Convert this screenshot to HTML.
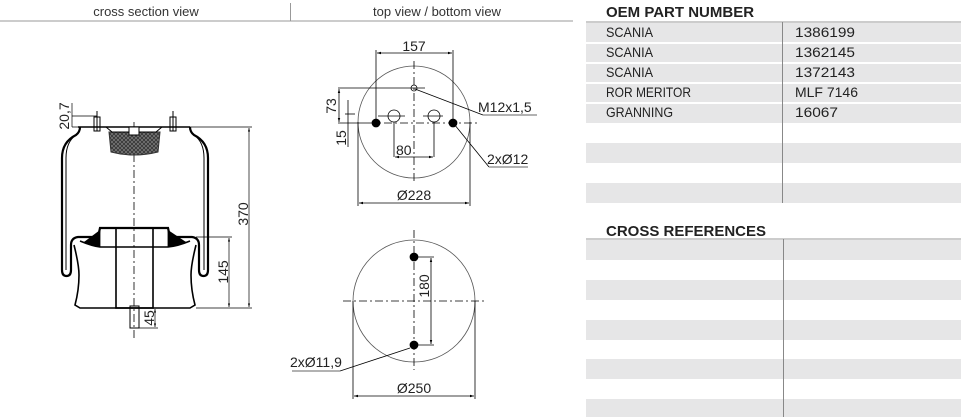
<!DOCTYPE html>
<html><head><meta charset="utf-8"><style>
html,body{margin:0;padding:0;background:#fff;width:961px;height:417px;overflow:hidden}
svg{display:block}
text{font-family:"Liberation Sans",Arial,sans-serif}
</style></head><body>
<svg width="961" height="417" viewBox="0 0 961 417" xmlns="http://www.w3.org/2000/svg">
<defs>
<pattern id="hatch" width="4" height="4" patternUnits="userSpaceOnUse">
<rect width="4" height="4" fill="#777"/><path d="M0 0L4 4M4 0L0 4" stroke="#333" stroke-width="0.8"/>
</pattern>
<marker id="ar" viewBox="0 0 10 10" refX="10" refY="5" markerWidth="7" markerHeight="5" orient="auto-start-reverse"><path d="M0 2L10 5L0 8z" fill="#000"/></marker>
</defs>

<!-- headers -->
<line x1="0" y1="21" x2="573" y2="21" stroke="#999" stroke-width="1"/>
<line x1="290.5" y1="3" x2="290.5" y2="21" stroke="#999"/>
<text x="146" y="16" font-size="13" text-anchor="middle" fill="#333">cross section view</text>
<text x="437" y="16" font-size="13" text-anchor="middle" fill="#333">top view / bottom view</text>

<!-- tables -->
<text x="606" y="17" font-size="15" font-weight="bold" fill="#222">OEM PART NUMBER</text>
<line x1="586" y1="22" x2="961" y2="22" stroke="#999"/>
<g fill="#e6e6e7">
<rect x="586" y="23" width="375" height="19"/>
<rect x="586" y="44" width="375" height="18"/>
<rect x="586" y="64" width="375" height="18"/>
<rect x="586" y="84" width="375" height="18"/>
<rect x="586" y="104" width="375" height="19"/>
<rect x="586" y="143" width="375" height="20"/>
<rect x="586" y="183" width="375" height="20"/>
</g>
<line x1="782.5" y1="22" x2="782.5" y2="203" stroke="#888"/>
<g font-size="14" fill="#222">
<text x="606" y="37" textLength="47" lengthAdjust="spacingAndGlyphs">SCANIA</text>
<text x="606" y="57" textLength="47" lengthAdjust="spacingAndGlyphs">SCANIA</text>
<text x="606" y="77" textLength="47" lengthAdjust="spacingAndGlyphs">SCANIA</text>
<text x="606" y="97" textLength="85" lengthAdjust="spacingAndGlyphs">ROR MERITOR</text>
<text x="606" y="117" textLength="67" lengthAdjust="spacingAndGlyphs">GRANNING</text>
<text x="795" y="37" textLength="60" lengthAdjust="spacingAndGlyphs">1386199</text>
<text x="795" y="57" textLength="60" lengthAdjust="spacingAndGlyphs">1362145</text>
<text x="795" y="77" textLength="60" lengthAdjust="spacingAndGlyphs">1372143</text>
<text x="795" y="97" textLength="63" lengthAdjust="spacingAndGlyphs">MLF 7146</text>
<text x="795" y="117" textLength="43" lengthAdjust="spacingAndGlyphs">16067</text>
</g>
<text x="606" y="236" font-size="15" font-weight="bold" fill="#222">CROSS REFERENCES</text>
<line x1="586" y1="239" x2="961" y2="239" stroke="#999"/>
<g fill="#e6e6e7">
<rect x="586" y="240" width="375" height="20"/>
<rect x="586" y="280" width="375" height="20"/>
<rect x="586" y="320" width="375" height="20"/>
<rect x="586" y="359" width="375" height="20"/>
<rect x="586" y="399" width="375" height="18"/>
</g>
<line x1="783.5" y1="239" x2="783.5" y2="417" stroke="#888"/>

<!-- cross section -->
<g stroke="#000" fill="none" stroke-width="1">
<line x1="134" y1="122" x2="134" y2="340" stroke-dasharray="8,3,2,3" stroke-width="0.8"/>
<!-- top plate -->
<line x1="78" y1="127" x2="190" y2="127" stroke-width="1.5"/>
<path d="M109 132 L160 132 L158 152 Q134 158 111 152 Z" fill="url(#hatch)" stroke="#333"/>
<path d="M106 127 L112 132 L156 132 L162 127" />
<rect x="94" y="117" width="6" height="14"/><rect x="170" y="117" width="6" height="14"/>
<line x1="97" y1="111" x2="97" y2="131"/><line x1="173" y1="111" x2="173" y2="131"/>
<rect x="129" y="127" width="10" height="8" fill="#fff"/>
<!-- body -->
<path d="M80 127 Q80 132 76 135 Q62 142 62 158 L62 270 Q62 276 66.5 276 Q71 276 71 270 L71 245 Q71 238 78 237 L98 237 L100 228 L168 228 L170 237 L192 237 Q199 238 199 245 L199 270 Q199 276 203.5 276 Q208 276 208 270 L208 158 Q208 142 194 135 Q190 132 190 127" stroke-width="2.2"/>
<path d="M76 135 Q66 142 66 158 L66 270 M204 270 L204 158 Q204 142 194 135" stroke-width="1"/>
<!-- piston -->
<path d="M74 245 Q79 265 79 275 Q79 290 75 305 L80 308 L190 308 L195 305 Q191 290 191 275 Q191 265 196 245" stroke-width="1.6"/>
<path d="M80 241 Q92 246 100 247 L168 247 Q178 246 190 241" stroke-width="1.6"/>
<path d="M84 242 L100 247 L100 230 M186 242 L168 247 L168 230" fill="#000" stroke-width="0.8"/>
<rect x="116" y="228" width="37" height="80" stroke-width="1.6"/>
<rect x="130" y="306" width="9" height="22"/>
<!-- dims -->
<g stroke-width="0.7">
<line x1="190" y1="127" x2="252" y2="127"/><line x1="196" y1="308" x2="252" y2="308"/>
<line x1="249" y1="128" x2="249" y2="307" marker-start="url(#ar)" marker-end="url(#ar)"/>
<line x1="196" y1="237" x2="232" y2="237"/>
<line x1="229" y1="238" x2="229" y2="307" marker-start="url(#ar)" marker-end="url(#ar)"/>
<line x1="139" y1="328" x2="158" y2="328"/>
<line x1="155" y1="309" x2="155" y2="327" marker-start="url(#ar)" marker-end="url(#ar)"/>
<line x1="72" y1="103" x2="72" y2="127"/><line x1="72" y1="116" x2="97" y2="116"/><line x1="72" y1="127" x2="96" y2="127"/>
</g>
</g>
<g font-size="14" fill="#222">
<text transform="translate(248,214) rotate(-90)" text-anchor="middle">370</text>
<text transform="translate(228,272) rotate(-90)" text-anchor="middle">145</text>
<text transform="translate(154,318) rotate(-90)" text-anchor="middle">45</text>
<text transform="translate(69,116) rotate(-90)" text-anchor="middle">20,7</text>
</g>

<!-- top view -->
<g stroke="#000" fill="none" stroke-width="0.8">
<circle cx="414" cy="122" r="56" stroke="#555"/>
<line x1="414" y1="61" x2="414" y2="183" stroke-dasharray="8,3,2,3"/>
<line x1="368" y1="123" x2="480" y2="123" stroke-dasharray="8,3,2,3"/>
<circle cx="376" cy="123" r="4" fill="#000"/><circle cx="453" cy="123" r="4" fill="#000"/>
<circle cx="394" cy="116" r="6"/><circle cx="434" cy="116" r="6"/>
<line x1="378" y1="116" x2="405" y2="116"/><line x1="423" y1="116" x2="443" y2="116"/>
<circle cx="414" cy="88" r="3"/>
<line x1="376" y1="50" x2="376" y2="123"/><line x1="453" y1="50" x2="453" y2="123"/>
<line x1="377" y1="53" x2="452" y2="53" marker-start="url(#ar)" marker-end="url(#ar)"/>
<line x1="338" y1="88" x2="425" y2="88"/>
<line x1="338" y1="123" x2="368" y2="123"/>
<line x1="339" y1="89" x2="339" y2="122" marker-start="url(#ar)" marker-end="url(#ar)"/>
<line x1="348" y1="100" x2="348" y2="147"/><line x1="345" y1="114" x2="355" y2="114"/>
<line x1="394" y1="122" x2="394" y2="157"/><line x1="434" y1="122" x2="434" y2="157"/>
<line x1="395" y1="157" x2="433" y2="157" marker-start="url(#ar)" marker-end="url(#ar)"/>
<line x1="358" y1="122" x2="358" y2="206"/><line x1="470" y1="122" x2="470" y2="206"/>
<line x1="359" y1="203" x2="469" y2="203" marker-start="url(#ar)" marker-end="url(#ar)"/>
<line x1="415" y1="89" x2="483" y2="115"/><line x1="483" y1="115" x2="537" y2="115" stroke="#999" stroke-width="1.4"/>
<line x1="454" y1="124" x2="489" y2="167"/><line x1="489" y1="167" x2="528" y2="167" stroke="#999" stroke-width="1.4"/>
</g>
<g font-size="14" fill="#222">
<text x="414" y="51" text-anchor="middle">157</text>
<text transform="translate(336,106) rotate(-90)" text-anchor="middle">73</text>
<text transform="translate(346,138) rotate(-90)" text-anchor="middle">15</text>
<text x="396" y="155">80</text>
<text x="414" y="200" text-anchor="middle">Ø228</text>
<text x="478" y="112">M12x1,5</text>
<text x="487" y="164">2xØ12</text>
</g>

<!-- bottom view -->
<g stroke="#000" fill="none" stroke-width="0.8">
<circle cx="414" cy="301" r="61" stroke="#555"/>
<line x1="414" y1="230" x2="414" y2="370" stroke-dasharray="8,3,2,3"/>
<line x1="343" y1="301" x2="486" y2="301" stroke-dasharray="8,3,2,3"/>
<circle cx="414" cy="257" r="4" fill="#000"/><circle cx="414" cy="345" r="4" fill="#000"/>
<line x1="414" y1="257" x2="434" y2="257"/><line x1="414" y1="345" x2="434" y2="345"/>
<line x1="431" y1="258" x2="431" y2="344" marker-start="url(#ar)" marker-end="url(#ar)"/>
<line x1="353" y1="301" x2="353" y2="399"/><line x1="475" y1="301" x2="475" y2="399"/>
<line x1="354" y1="396" x2="474" y2="396" marker-start="url(#ar)" marker-end="url(#ar)"/>
<line x1="340" y1="371" x2="410" y2="348"/>
<line x1="292" y1="371" x2="340" y2="371" stroke="#999" stroke-width="1.4"/>
</g>
<g font-size="14" fill="#222">
<text transform="translate(429,286) rotate(-90)" text-anchor="middle">180</text>
<text x="414" y="393" text-anchor="middle">Ø250</text>
<text x="290" y="367">2xØ11,9</text>
</g>
</svg>
</body></html>
